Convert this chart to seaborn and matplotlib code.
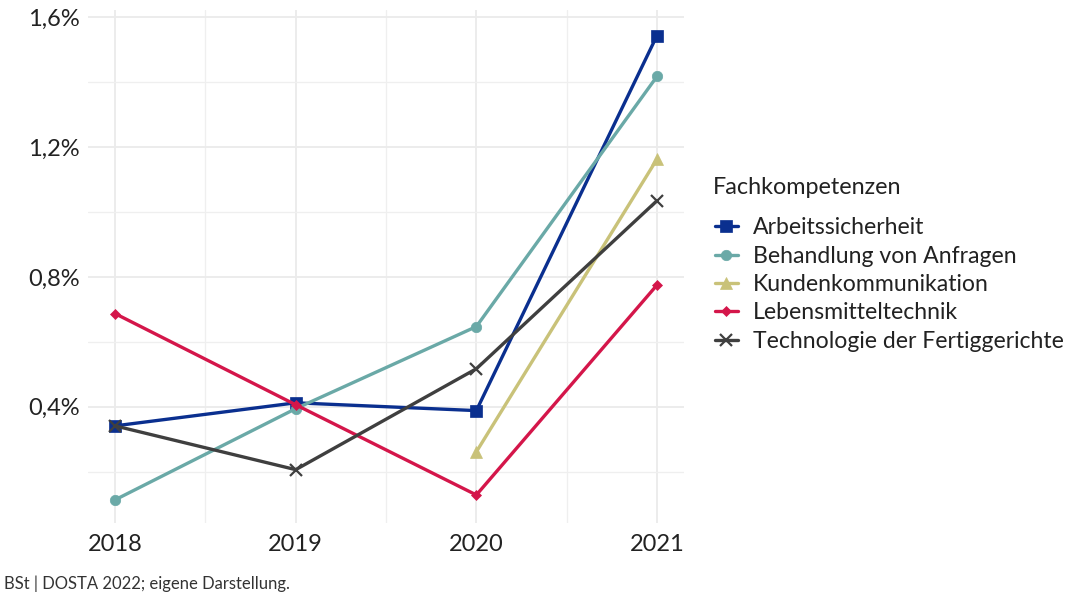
import numpy as np
import pandas as pd
import seaborn as sns
import matplotlib
matplotlib.use("Agg")
import matplotlib.pyplot as plt
from matplotlib.ticker import FuncFormatter, MultipleLocator

years = [2018, 2019, 2020, 2021]
arbeitssicherheit = [0.341, 0.412, 0.388, 1.544]
behandlung = [0.113, 0.394, 0.647, 1.418]
kunden = [np.nan, np.nan, 0.261, 1.163]
lebensmittel = [0.687, 0.406, 0.128, 0.775]
technologie = [0.341, 0.206, 0.517, 1.035]

series_names = ["Arbeitssicherheit", "Behandlung von Anfragen", "Kundenkommunikation",
                "Lebensmitteltechnik", "Technologie der Fertiggerichte"]
series_values = [arbeitssicherheit, behandlung, kunden, lebensmittel, technologie]
colors = ["#0A2F8F", "#6AA9A7", "#C9C279", "#D4164A", "#3F3F3F"]
markers = ["s", "o", "^", "D", "x"]
marker_sizes = [8, 7.5, 9, 5, 9]

rows = []
for name, vals in zip(series_names, series_values):
    for y, v in zip(years, vals):
        rows.append({"Jahr": y, "Anteil": v, "Fachkompetenzen": name})
df = pd.DataFrame(rows)

sns.set_theme(style="whitegrid")
plt.rcParams['font.family'] = ['Lato', 'DejaVu Sans']

fig = plt.figure(figsize=(10.78, 6.0), dpi=100)
ax = fig.add_axes([0.0816, 0.128, 0.553, 0.855])

for name, col, mk, ms in zip(series_names, colors, markers, marker_sizes):
    sub = df[df["Fachkompetenzen"] == name].dropna()
    sns.lineplot(data=sub, x="Jahr", y="Anteil", ax=ax, color=col, linewidth=2.4,
                 marker=mk, markersize=ms, markeredgecolor=col,
                 markeredgewidth=1.6 if mk == "x" else 0.5, label=name, legend=False)

ax.set_xlim(2017.85, 2021.15)
ax.set_ylim(0.041, 1.622)
ax.set_xticks(years)
ax.set_xticklabels([str(y) for y in years])
ax.yaxis.set_major_locator(MultipleLocator(0.4))
ax.yaxis.set_minor_locator(MultipleLocator(0.2))
ax.xaxis.set_minor_locator(MultipleLocator(0.5))
ax.yaxis.set_major_formatter(FuncFormatter(lambda v, p: f"{v:.1f}%".replace(".", ",")))
ax.set_yticks([0.4, 0.8, 1.2, 1.6])
ax.grid(which="major", color="#EBEBEB", linewidth=1.3)
ax.grid(which="minor", color="#EFEFEF", linewidth=0.9)
ax.set_facecolor("white")
for s in ax.spines.values():
    s.set_visible(False)
ax.tick_params(axis="both", which="both", length=0, labelsize=17, labelcolor="#222222")
ax.tick_params(axis="x", pad=8)
ax.tick_params(axis="y", pad=6)
ax.set_xlabel("")
ax.set_ylabel("")

handles, labels = ax.get_legend_handles_labels()
fig.text(0.661, 0.687, "Fachkompetenzen", fontsize=16.8, color="#222222", va="center", ha="left")
leg = fig.legend(handles, labels, loc="upper left",
                 bbox_to_anchor=(0.663, 0.638), frameon=False, fontsize=16.6,
                 handlelength=1.0, handletextpad=0.65,
                 labelspacing=0.32, borderaxespad=0, borderpad=0)
for t in leg.get_texts():
    t.set_color("#222222")

fig.text(0.004, 0.018, "BSt | DOSTA 2022; eigene Darstellung.", fontsize=12, color="#333333")

fig.savefig("out.png", dpi=100, facecolor="white")
